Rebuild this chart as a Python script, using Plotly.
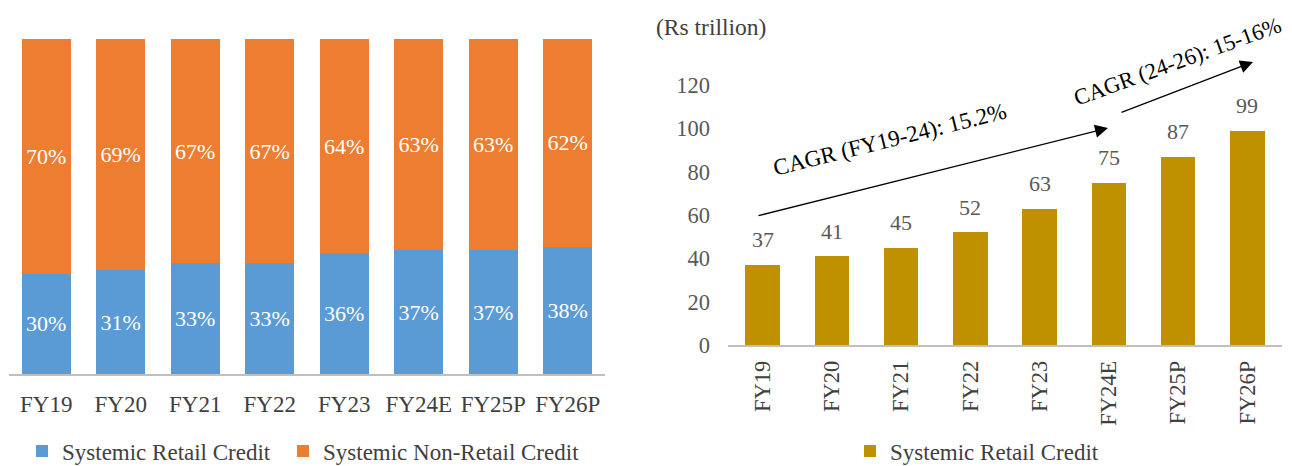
import plotly.graph_objects as go

categories = ["FY19", "FY20", "FY21", "FY22", "FY23", "FY24E", "FY25P", "FY26P"]
retail_share = [30, 31, 33, 33, 36, 37, 37, 38]
non_retail_share = [70, 69, 67, 67, 64, 63, 63, 62]
retail_credit = [37, 41, 45, 52, 63, 75, 87, 99]
y_ticks = [0, 20, 40, 60, 80, 100, 120]

FONT = "Liberation Serif"
OFF = 8  # page body margin
W, H = 1292 - OFF, 466 - OFF

def px(x):
    return max(0.0, (x - OFF) / W)

def py(y):
    return 1 - (y - OFF) / H

fig = go.Figure()

fig.add_trace(go.Bar(
    x=categories, y=retail_share, name="Systemic Retail Credit",
    marker=dict(color="#5B9BD5", line=dict(width=0)),
    text=[f"{v}%" for v in retail_share], textposition="inside",
    insidetextanchor="middle", textangle=0,
    textfont=dict(color="white", size=22, family=FONT),
    xaxis="x", yaxis="y", legend="legend",
))
fig.add_trace(go.Bar(
    x=categories, y=non_retail_share, name="Systemic Non-Retail Credit",
    marker=dict(color="#ED7D31", line=dict(width=0)),
    text=[f"{v}%" for v in non_retail_share], textposition="inside",
    insidetextanchor="middle", textangle=0,
    textfont=dict(color="white", size=22, family=FONT),
    xaxis="x", yaxis="y", legend="legend3",
))
fig.add_trace(go.Bar(
    x=categories, y=retail_credit, name="Systemic Retail Credit",
    marker=dict(color="#BF9000", line=dict(width=0)),
    width=0.5,
    xaxis="x2", yaxis="y2", legend="legend2",
))

annotations = []
for c, v in zip(categories, retail_credit):
    annotations.append(dict(
        x=c, y=v, xref="x2", yref="y2", text=str(v), showarrow=False,
        yshift=25, yanchor="middle", xanchor="center",
        font=dict(size=22, color="#595959", family=FONT),
    ))

annotations += [
    dict(x=px(654), y=py(27), xref="paper", yref="paper", text="(Rs trillion)",
         showarrow=False, xanchor="left", yanchor="middle",
         font=dict(size=23.5, color="#404040", family=FONT)),
    dict(x=px(1108), y=py(128), xref="paper", yref="paper", text="",
         showarrow=True, ax=757 - 1108, ay=216 - 128, arrowhead=2,
         arrowsize=2.0, arrowwidth=1.3, arrowcolor="black", standoff=0),
    dict(x=px(1253), y=py(62), xref="paper", yref="paper", text="",
         showarrow=True, ax=1120 - 1253, ay=113 - 62, arrowhead=2,
         arrowsize=2.0, arrowwidth=1.3, arrowcolor="black", standoff=0),
    dict(x=px(890), y=py(139), xref="paper", yref="paper",
         text="CAGR (FY19-24): 15.2%", showarrow=False, textangle=-14,
         xanchor="center", yanchor="middle",
         font=dict(size=23, color="black", family=FONT)),
    dict(x=px(1177), y=py(61), xref="paper", yref="paper",
         text="CAGR (24-26): 15-16%", showarrow=False, textangle=-20,
         xanchor="center", yanchor="middle",
         font=dict(size=22.5, color="black", family=FONT)),
]

legend_common = dict(orientation="h", yanchor="middle", xanchor="left",
                     font=dict(size=23, color="#404040", family=FONT),
                     itemwidth=30, bgcolor="rgba(0,0,0,0)",
                     tracegroupgap=0)

fig.update_layout(
    width=W, height=H,
    margin=dict(l=0, r=0, t=0, b=0, autoexpand=False),
    paper_bgcolor="white", plot_bgcolor="white",
    barmode="stack", bargap=0.34,
    font=dict(family=FONT, color="#404040"),
    showlegend=True,
    xaxis=dict(domain=[px(9), px(605)], showline=True, linecolor="#BFBFBF",
               linewidth=1.5, ticks="", ticklabelstandoff=9, automargin=False,
               ticklabeloverflow="allow",
               tickfont=dict(size=23, color="#404040", family=FONT),
               showgrid=False, zeroline=False, fixedrange=True),
    yaxis=dict(domain=[py(374), py(39)], range=[0, 100], visible=False,
               showgrid=False, zeroline=False, automargin=False),
    xaxis2=dict(domain=[px(728), px(1282)], anchor="y2", showline=True,
                linecolor="#BFBFBF", linewidth=1.5, ticks="", tickangle=-90,
                ticklabelstandoff=5, automargin=False,
                ticklabeloverflow="allow",
                tickfont=dict(size=22.5, color="#404040", family=FONT),
                showgrid=False, zeroline=False),
    yaxis2=dict(domain=[py(345), py(85)], anchor="x2", range=[0, 120],
                tickvals=y_ticks, ticks="", showline=False, showgrid=False,
                zeroline=False, ticklabelstandoff=17, automargin=False,
                tickfont=dict(size=22.5, color="#595959", family=FONT)),
    legend=dict(x=px(22), y=py(451), **legend_common),
    legend3=dict(x=px(283), y=py(451), **legend_common),
    legend2=dict(x=px(850), y=py(451), **legend_common),
    annotations=annotations,
)

fig.write_html("out.html")
